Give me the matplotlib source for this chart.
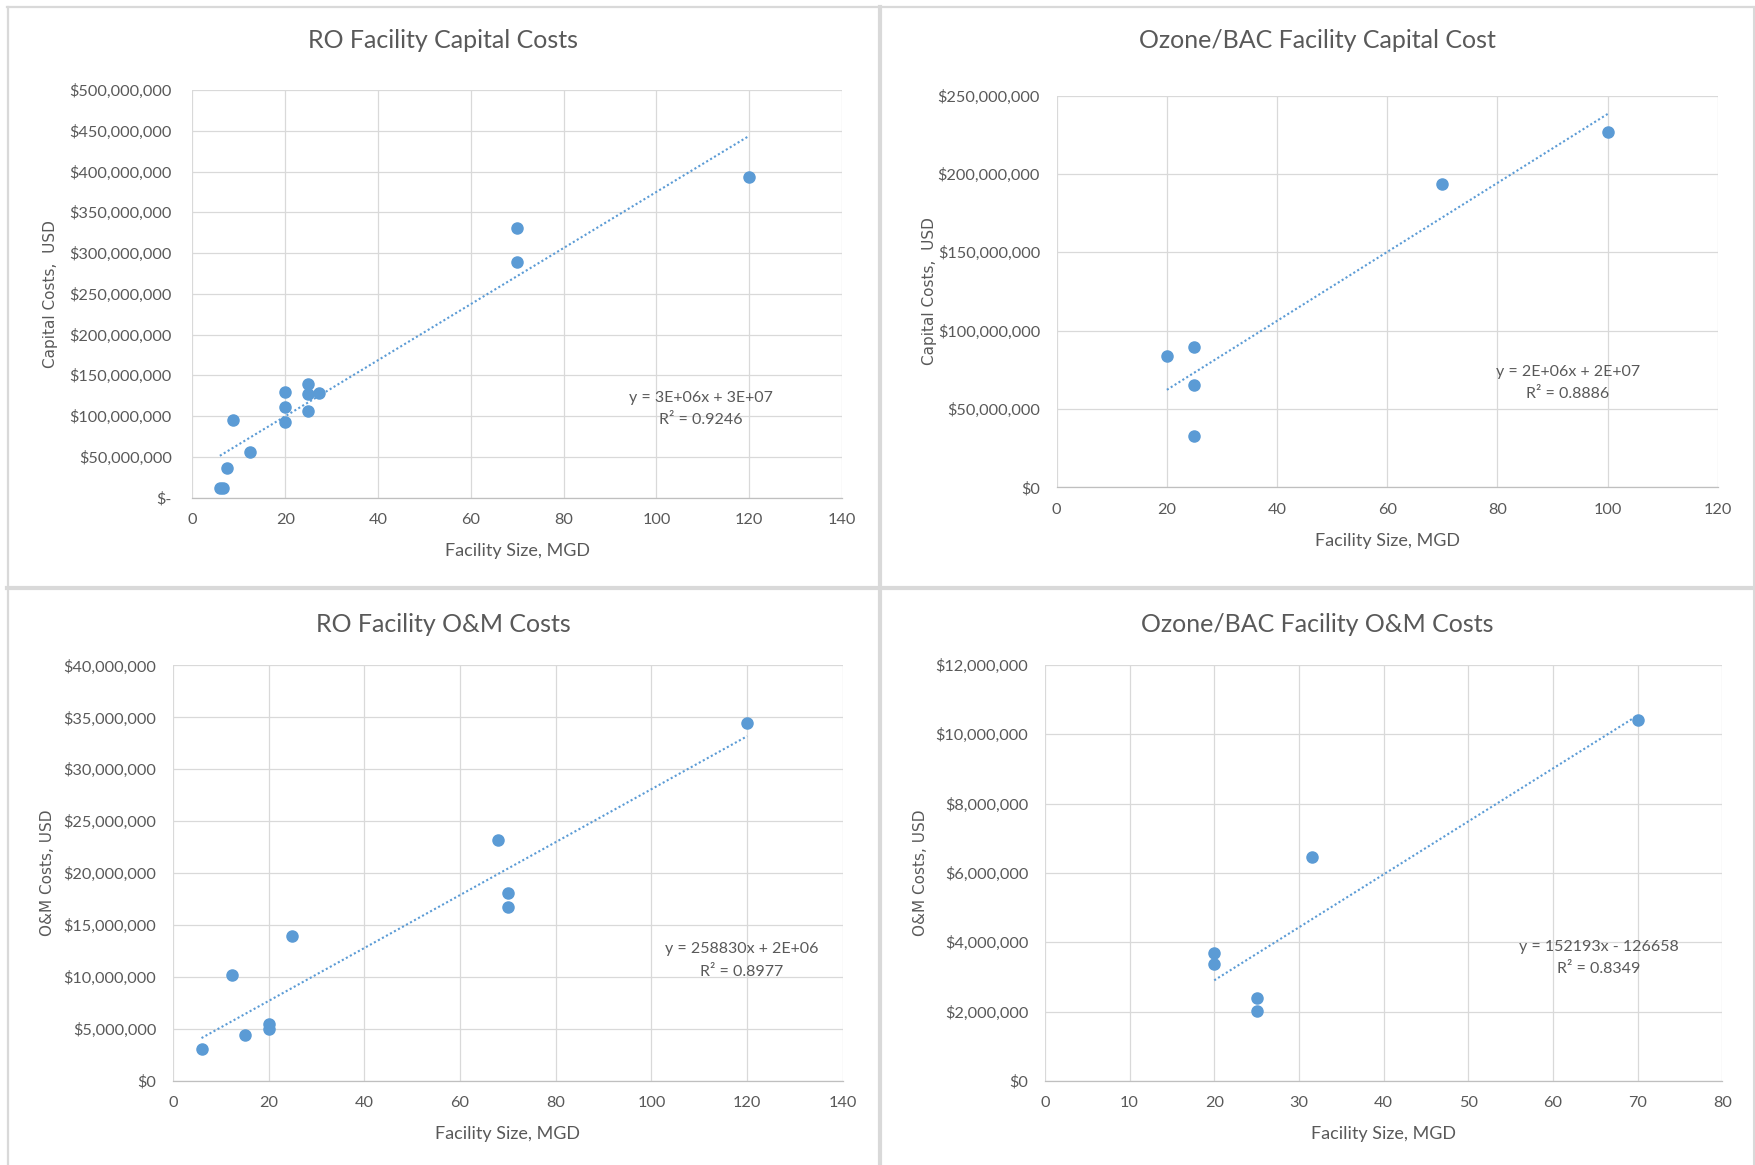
import numpy as np
import matplotlib
matplotlib.use("Agg")
import matplotlib.pyplot as plt
from matplotlib.lines import Line2D
from matplotlib.ticker import FuncFormatter, MultipleLocator

# RO capital costs
ro_cap_size = [5.9, 6.6, 7.4, 8.8, 12.5, 20, 20, 20, 25, 25, 25, 27.3, 70, 70, 120]
ro_cap_cost = [12e6, 12e6, 36e6, 95e6, 56e6, 130e6, 111e6, 93e6, 139e6, 127e6, 106e6, 128e6, 331e6, 289e6, 393e6]

# Ozone/BAC capital costs
oz_cap_size = [20, 25, 25, 25, 70, 100]
oz_cap_cost = [83.8e6, 89.8e6, 65.6e6, 32.7e6, 193.6e6, 226.9e6]

# RO O&M costs
ro_om_size = [6, 12.4, 15, 20, 20, 25, 68, 70, 70, 120]
ro_om_cost = [3.1e6, 10.2e6, 4.4e6, 5.5e6, 5.0e6, 14.0e6, 23.2e6, 18.1e6, 16.7e6, 34.5e6]

# Ozone/BAC O&M costs
oz_om_size = [20, 20, 25, 25, 31.6, 70]
oz_om_cost = [3.69e6, 3.38e6, 2.38e6, 2.03e6, 6.46e6, 10.42e6]

titles = ["RO Facility Capital Costs", "Ozone/BAC Facility Capital Cost",
          "RO Facility O&M Costs", "Ozone/BAC Facility O&M Costs"]
equations = [("y = 3E+06x + 3E+07", "R² = 0.9246"),
             ("y = 2E+06x + 2E+07", "R² = 0.8886"),
             ("y = 258830x + 2E+06", "R² = 0.8977"),
             ("y = 152193x - 126658", "R² = 0.8349")]

W, H = 1756, 1165
BLUE = "#5B9BD5"
GREY = "#595959"
GRID = "#D9D9D9"
CAL = ["Lato", "DejaVu Sans"]

fig = plt.figure(figsize=(W / 100, H / 100), dpi=100)


def px_axes(l, t, r, b):
    return fig.add_axes([l / W, 1 - b / H, (r - l) / W, (b - t) / H])


def money(zero):
    def fmt(v, pos):
        if abs(v) < 1:
            return zero
        return "${:,.0f}".format(v)
    return FuncFormatter(fmt)


panels = [
    dict(box=(192.5, 90, 842, 497.5), x=ro_cap_size, y=ro_cap_cost, xmax=140, xstep=20,
         ymax=500e6, ystep=50e6, zero="$-", ylabel="Capital Costs,  USD",
         title_xy=(443.5, 41), xl=-0.131, yl=-0.2186, eq=(0.783, 0.245, 0.191), pad=15),
    dict(box=(1056.7, 95.6, 1717.8, 487.3), x=oz_cap_size, y=oz_cap_cost, xmax=120, xstep=20,
         ymax=250e6, ystep=50e6, zero="$0", ylabel="Capital Costs,  USD",
         title_xy=(1317, 41), xl=-0.136, yl=-0.193, eq=(0.773, 0.295, 0.239), pad=12),
    dict(box=(172.8, 665.4, 842.9, 1081), x=ro_om_size, y=ro_om_cost, xmax=140, xstep=20,
         ymax=40e6, ystep=5e6, zero="$0", ylabel="O&M Costs, USD",
         title_xy=(443.5, 624), xl=-0.1275, yl=-0.1867, eq=(0.849, 0.317, 0.263), pad=12),
    dict(box=(1044.9, 665, 1722.2, 1081), x=oz_om_size, y=oz_om_cost, xmax=80, xstep=10,
         ymax=12e6, ystep=2e6, zero="$0", ylabel="O&M Costs, USD",
         title_xy=(1317, 624), xl=-0.1274, yl=-0.183, eq=(0.818, 0.323, 0.269), pad=12),
]

for p, title, eq in zip(panels, titles, equations):
    ax = px_axes(*p["box"])
    x = np.array(p["x"])
    y = np.array(p["y"])

    ax.set_xlim(0, p["xmax"])
    ax.set_ylim(0, p["ymax"])
    ax.xaxis.set_major_locator(MultipleLocator(p["xstep"]))
    ax.yaxis.set_major_locator(MultipleLocator(p["ystep"]))
    ax.yaxis.set_major_formatter(money(p["zero"]))
    ax.grid(True, color=GRID, lw=0.9)
    ax.set_axisbelow(True)
    for side in ["top", "right", "left"]:
        ax.spines[side].set_visible(False)
    ax.spines["bottom"].set_color("#BFBFBF")
    ax.spines["bottom"].set_linewidth(0.9)
    ax.tick_params(length=0, labelsize=11.7, colors=GREY)
    ax.tick_params(axis="y", pad=p["pad"])
    ax.tick_params(axis="x", pad=11)
    for lab in ax.get_xticklabels() + ax.get_yticklabels():
        lab.set_family(CAL)

    # linear trendline
    k, b = np.polyfit(x, y, 1)
    xs = np.array([x.min(), x.max()])
    ax.plot(xs, k * xs + b, color=BLUE, lw=1.5, linestyle=(0, (1, 1.2)), zorder=2)
    ax.plot(x, y, "o", color=BLUE, ms=8, mec=BLUE, zorder=3, clip_on=False)

    ex, ey1, ey2 = p["eq"]
    ax.text(ex, ey1, eq[0], transform=ax.transAxes, ha="center", va="center",
            fontsize=11.5, color=GREY, family=CAL)
    ax.text(ex, ey2, eq[1], transform=ax.transAxes, ha="center", va="center",
            fontsize=11.5, color=GREY, family=CAL)

    ax.text(0.5, p["xl"], "Facility Size, MGD", transform=ax.transAxes, ha="center",
            va="center", fontsize=13, color=GREY, family=CAL)
    ax.text(p["yl"], 0.5, p["ylabel"], transform=ax.transAxes, ha="center", va="center",
            rotation=90, fontsize=11, color=GREY, family="DejaVu Sans")

    tx, ty = p["title_xy"]
    fig.text(tx / W, 1 - ty / H, title, ha="center", va="center", fontsize=18,
             color=GREY, family=CAL)

# chart frames
frame = dict(color=GRID, transform=fig.transFigure)
fig.add_artist(Line2D([7 / W, 1754 / W], [1 - 7 / H] * 2, lw=1.6, **frame))
fig.add_artist(Line2D([8 / W] * 2, [1 - 7 / H, 0], lw=1.6, **frame))
fig.add_artist(Line2D([1754 / W] * 2, [1 - 7 / H, 0], lw=2.2, **frame))
fig.add_artist(Line2D([880 / W] * 2, [1 - 7 / H, 0], lw=3, **frame))
fig.add_artist(Line2D([7 / W, 1754 / W], [1 - 588 / H] * 2, lw=3, **frame))

fig.savefig("out.png", dpi=100)
